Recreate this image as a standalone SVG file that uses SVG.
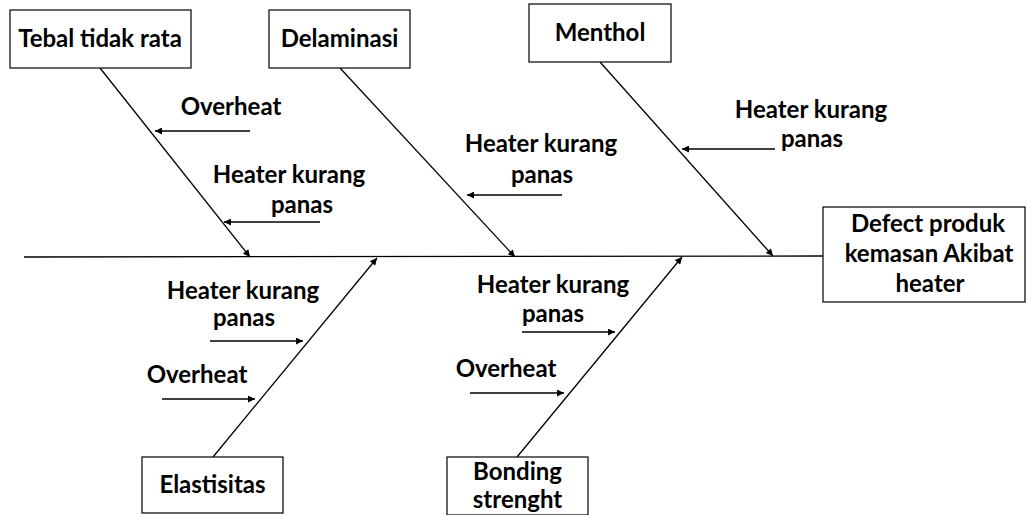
<svg xmlns="http://www.w3.org/2000/svg" width="1027" height="515" viewBox="0 0 1027 515">
<style>
.box{fill:#fff;stroke:#000;stroke-width:1.2}
.t{font-family:Lato,"Open Sans","Liberation Sans",sans-serif;font-weight:bold;font-size:24px;fill:#000;text-anchor:middle}
.ln{stroke:#000;stroke-width:1.3;fill:none}
</style>
<defs>
<marker id="ah" viewBox="0 0 10 10" refX="10" refY="5" markerWidth="9" markerHeight="7" markerUnits="userSpaceOnUse" orient="auto">
<path d="M0,0 L10,5 L0,10 z" fill="#000"/>
</marker>
</defs>
<g id="connectors">
<line class="ln" x1="24" y1="257" x2="823" y2="256" stroke="#333"/>
<line class="ln" x1="100" y1="68" x2="250" y2="257" marker-end="url(#ah)"/>
<line class="ln" x1="340" y1="68" x2="515" y2="257" marker-end="url(#ah)"/>
<line class="ln" x1="600" y1="62" x2="773" y2="256" marker-end="url(#ah)"/>
<line class="ln" x1="213" y1="457" x2="377" y2="258" marker-end="url(#ah)"/>
<line class="ln" x1="517" y1="457" x2="682" y2="257" marker-end="url(#ah)"/>
<line class="ln" x1="250" y1="131" x2="155" y2="131" marker-end="url(#ah)"/>
<line class="ln" x1="320" y1="222" x2="224" y2="222" marker-end="url(#ah)"/>
<line class="ln" x1="562" y1="195" x2="467" y2="195" marker-end="url(#ah)"/>
<line class="ln" x1="775" y1="149" x2="682" y2="149" marker-end="url(#ah)"/>
<line class="ln" x1="210" y1="341" x2="303" y2="341" marker-end="url(#ah)"/>
<line class="ln" x1="162" y1="399" x2="255" y2="399" marker-end="url(#ah)"/>
<line class="ln" x1="522" y1="332" x2="615" y2="332" marker-end="url(#ah)"/>
<line class="ln" x1="470" y1="393" x2="564" y2="393" marker-end="url(#ah)"/>
</g>
<g id="labels">
<text class="t" x="231" y="115">Overheat</text>
<text class="t" x="289" y="183">Heater kurang</text>
<text class="t" x="302" y="213">panas</text>
<text class="t" x="541" y="152">Heater kurang</text>
<text class="t" x="542" y="183">panas</text>
<text class="t" x="811" y="118">Heater kurang</text>
<text class="t" x="812" y="147">panas</text>
<text class="t" x="243" y="299">Heater kurang</text>
<text class="t" x="244" y="326">panas</text>
<text class="t" x="197" y="383">Overheat</text>
<text class="t" x="553" y="293">Heater kurang</text>
<text class="t" x="553" y="322">panas</text>
<text class="t" x="506" y="377">Overheat</text>
</g>
<g id="tebal"><rect class="box" x="10" y="10" width="181" height="58"/><text class="t" x="100" y="47">Tebal tidak rata</text></g>
<g id="delaminasi"><rect class="box" x="269" y="10" width="141" height="58"/><text class="t" x="339.5" y="47">Delaminasi</text></g>
<g id="menthol"><rect class="box" x="529" y="4" width="142" height="58"/><text class="t" x="600" y="41">Menthol</text></g>
<g id="defect"><rect class="box" x="823" y="207" width="202" height="95"/>
<text class="t" x="928" y="232">Defect produk</text>
<text class="t" x="929" y="262">kemasan Akibat</text>
<text class="t" x="930" y="292">heater</text></g>
<g id="elastisitas"><rect class="box" x="142" y="457" width="141" height="56"/><text class="t" x="212.5" y="493">Elastisitas</text></g>
<g id="bonding"><rect class="box" x="447" y="457" width="141" height="58"/>
<text class="t" x="517.5" y="480">Bonding</text>
<text class="t" x="517.5" y="508">strenght</text></g>
</svg>
